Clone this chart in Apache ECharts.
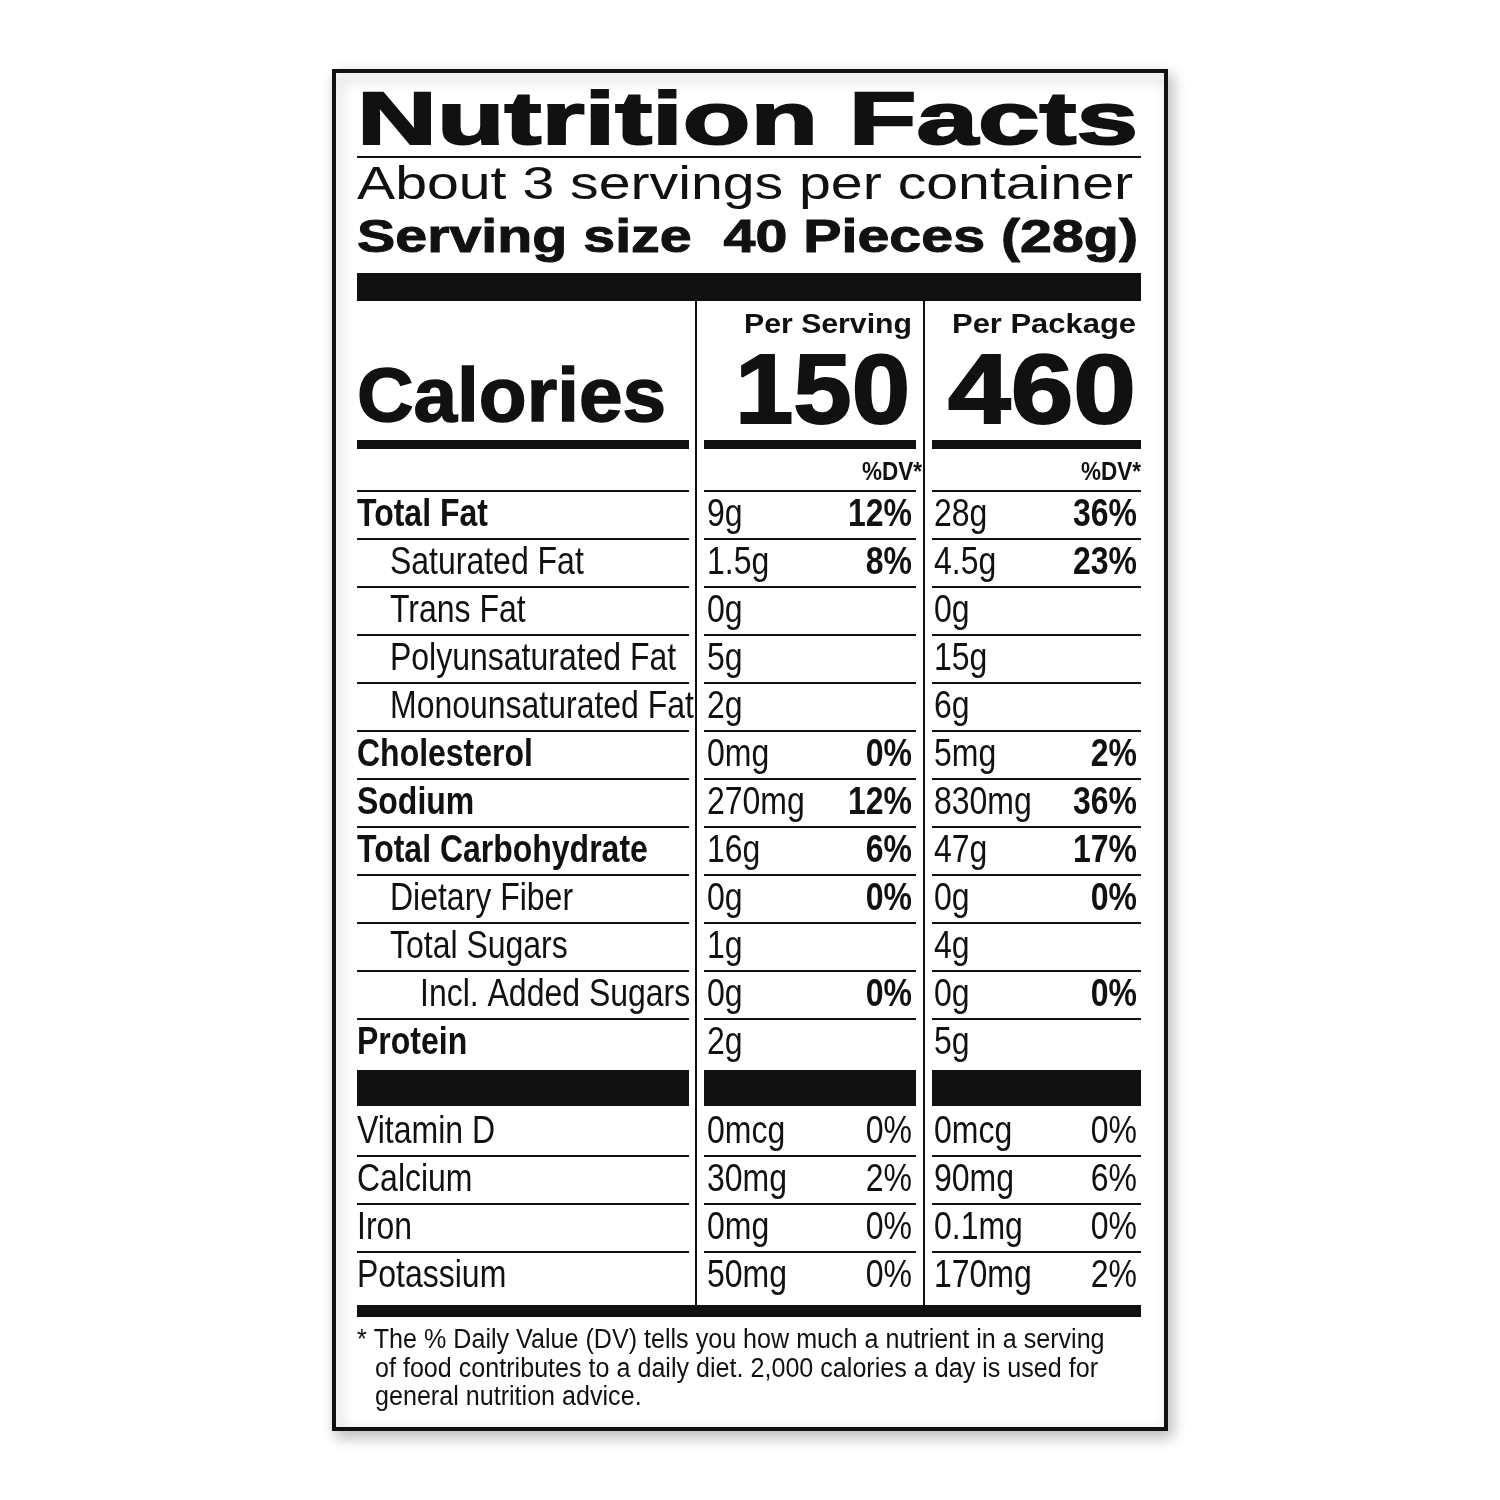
<!DOCTYPE html>
<html>
<head>
<meta charset="utf-8">
<script src="https://cdn.jsdelivr.net/npm/echarts@6/dist/echarts.min.js"></script>
<style>html,body{margin:0;padding:0;background:#fff}#chart{width:1500px;height:1500px}</style>
</head>
<body>
<div id="chart"></div>
<script>
// label data
var servingsText = 'About 3 servings per container';
var servingSize = 'Serving size  40 Pieces (28g)';
var caloriesServing = '150';
var caloriesPackage = '460';
var nutrients = ['Total Fat', 'Saturated Fat', 'Trans Fat', 'Polyunsaturated Fat', 'Monounsaturated Fat',
  'Cholesterol', 'Sodium', 'Total Carbohydrate', 'Dietary Fiber', 'Total Sugars', 'Incl. Added Sugars', 'Protein'];
var indentLevel = [0, 1, 1, 1, 1, 0, 0, 0, 1, 1, 2, 0];
var servingAmount = ['9g', '1.5g', '0g', '5g', '2g', '0mg', '270mg', '16g', '0g', '1g', '0g', '2g'];
var servingDV = ['12%', '8%', '', '', '', '0%', '12%', '6%', '0%', '', '0%', ''];
var packageAmount = ['28g', '4.5g', '0g', '15g', '6g', '5mg', '830mg', '47g', '0g', '4g', '0g', '5g'];
var packageDV = ['36%', '23%', '', '', '', '2%', '36%', '17%', '0%', '', '0%', ''];
var vitamins = ['Vitamin D', 'Calcium', 'Iron', 'Potassium'];
var vitServingAmount = ['0mcg', '30mg', '0mg', '50mg'];
var vitServingDV = ['0%', '2%', '0%', '0%'];
var vitPackageAmount = ['0mcg', '90mg', '0.1mg', '170mg'];
var vitPackageDV = ['0%', '6%', '0%', '2%'];
var footnote = ['* The % Daily Value (DV) tells you how much a nutrient in a serving',
  'of food contributes to a daily diet. 2,000 calories a day is used for',
  'general nutrition advice.'];

var FONT = '"Liberation Sans", Arial, sans-serif';
var ctx = document.createElement('canvas').getContext('2d');
function fit(text, size, weight, width) {
  ctx.font = weight + ' ' + size + 'px ' + FONT;
  return width / ctx.measureText(text).width;
}
var els = [];
function txt(text, x, y, size, weight, align, sx, extra) {
  var e = {
    type: 'text', x: x, y: y, scaleX: sx || 1,
    style: Object.assign({
      text: text, x: 0, y: 0, fill: '#111', fontFamily: FONT, fontSize: size,
      fontWeight: weight, align: align || 'left', verticalAlign: 'middle'
    }, extra || {})
  };
  els.push(e);
}
function box(x, y, w, h) {
  els.push({ type: 'rect', shape: { x: x, y: y, width: w, height: h }, style: { fill: '#111' } });
}
var L = 357, R = 1141;
var cols = [[357, 689], [704, 916], [932, 1141]];
function colBars(y, h) { cols.forEach(function (c) { box(c[0], y, c[1] - c[0], h); }); }

// frame
els.push({ type: 'rect', shape: { x: 334, y: 71, width: 832, height: 1358 },
  style: { fill: '#fff', stroke: '#111', lineWidth: 4, shadowBlur: 14, shadowColor: 'rgba(0,0,0,0.25)', shadowOffsetX: 4, shadowOffsetY: 6 } });

// header
txt('Nutrition Facts', L, 124, 74, 'bold', 'left', fit('Nutrition Facts', 74, 'bold', 781), { stroke: '#111', lineWidth: 2 });
box(L, 156, R - L, 2);
txt(servingsText, L, 186, 47, 'normal', 'left', fit(servingsText, 47, 'normal', 776));
txt(servingSize, L, 239, 47, 'bold', 'left', fit(servingSize, 47, 'bold', 781), { stroke: '#111', lineWidth: 1 });
box(L, 273, R - L, 28);
els.push({ type: 'rect', shape: { x: 695, y: 301, width: 2, height: 1004 }, style: { fill: '#111' } });
els.push({ type: 'rect', shape: { x: 923, y: 301, width: 2, height: 1004 }, style: { fill: '#111' } });

txt('Per Serving', 912, 326, 27, 'bold', 'right', fit('Per Serving', 27, 'bold', 168));
txt('Per Package', 1136, 326, 27, 'bold', 'right', fit('Per Package', 27, 'bold', 184));
txt('Calories', L, 400, 76, 'bold', 'left', fit('Calories', 76, 'bold', 309), { stroke: '#111', lineWidth: 1.5 });
txt(caloriesServing, 910, 396, 98, 'bold', 'right', fit(caloriesServing, 98, 'bold', 175), { stroke: '#111', lineWidth: 2 });
txt(caloriesPackage, 1136, 396, 98, 'bold', 'right', fit(caloriesPackage, 98, 'bold', 188), { stroke: '#111', lineWidth: 2 });
colBars(440, 9);
txt('%DV*', 922, 473, 25, 'bold', 'right', 0.9);
txt('%DV*', 1141, 473, 25, 'bold', 'right', 0.9);

var SX = 0.82, FS = 39;
var indentX = [357, 390, 420];
function line(y) { cols.forEach(function (c) { box(c[0], y, c[1] - c[0], 2); }); }
nutrients.forEach(function (n, i) {
  var y = 515 + i * 48;
  line(y - 25);
  var w = indentLevel[i] === 0 ? 'bold' : 'normal';
  txt(n, indentX[indentLevel[i]], y, FS, w, 'left', SX);
  txt(servingAmount[i], 707, y, FS, 'normal', 'left', SX);
  txt(servingDV[i], 912, y, FS, 'bold', 'right', SX);
  txt(packageAmount[i], 934, y, FS, 'normal', 'left', SX);
  txt(packageDV[i], 1137, y, FS, 'bold', 'right', SX);
});
colBars(1070, 36);
vitamins.forEach(function (n, i) {
  var y = 1132 + i * 48;
  if (i > 0) line(y - 25);
  txt(n, L, y, FS, 'normal', 'left', SX);
  txt(vitServingAmount[i], 707, y, FS, 'normal', 'left', SX);
  txt(vitServingDV[i], 912, y, FS, 'normal', 'right', SX);
  txt(vitPackageAmount[i], 934, y, FS, 'normal', 'left', SX);
  txt(vitPackageDV[i], 1137, y, FS, 'normal', 'right', SX);
});
box(L, 1305, R - L, 12);
footnote.forEach(function (t, i) {
  txt(t, i === 0 ? 357 : 375, 1341 + i * 28.5, 27, 'normal', 'left', 0.93);
});

var myChart = echarts.init(document.getElementById('chart'));
myChart.setOption({ backgroundColor: '#fff', animation: false, graphic: { elements: els } });
</script>
</body>
</html>
